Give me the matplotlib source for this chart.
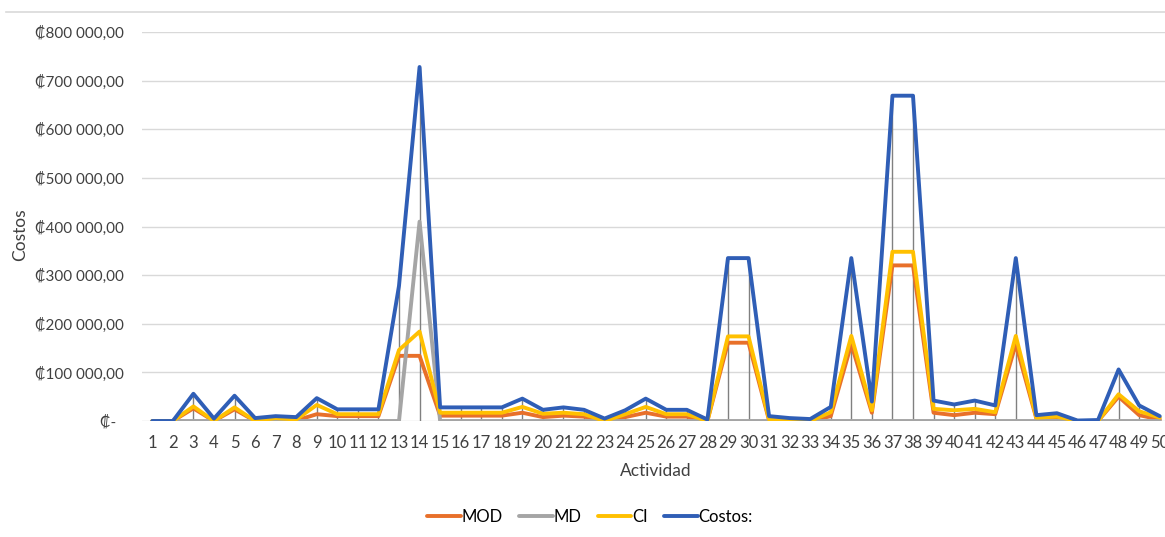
import numpy as np
import matplotlib.pyplot as plt
from matplotlib.lines import Line2D
from matplotlib.ticker import FuncFormatter

plt.rcParams['font.family'] = ['Lato', 'DejaVu Sans']

# Datos
actividad = np.arange(1, 51)
mod = [0, 0, 26000, 0, 24000, 0, 3000, 1000, 14000, 10000,
       10000, 10000, 134000, 134000, 11000, 11000, 11000, 11000, 17000, 8000,
       11000, 9000, 0, 8000, 17000, 9000, 9000, 0, 161000, 161000,
       1000, 0, 0, 10000, 158000, 17000, 320000, 320000, 17000, 12000,
       17000, 14000, 158000, 5000, 7000, 0, 0, 50000, 12000, 3000]
md = [0] * 13 + [410000] + [0] * 36
ci = [0, 0, 30000, 0, 28000, 0, 6000, 3000, 33000, 14000,
      14000, 14000, 146000, 184000, 17000, 17000, 17000, 17000, 29000, 15000,
      17000, 14000, 0, 14000, 29000, 14000, 14000, 0, 174000, 174000,
      3000, 0, 0, 18000, 175000, 22000, 348000, 348000, 25000, 22000,
      25000, 18000, 175000, 7000, 9000, 0, 0, 55000, 20000, 7000]
costos = [0, 0, 56000, 5000, 52000, 6000, 10000, 8000, 47000, 24000,
          24000, 24000, 278000, 728000, 28000, 28000, 28000, 28000, 46000, 23000,
          28000, 23000, 5000, 22000, 46000, 23000, 23000, 3000, 335000, 335000,
          10000, 6000, 4000, 29000, 335000, 40000, 669000, 669000, 42000, 34000,
          42000, 32000, 335000, 12000, 16000, 1000, 2000, 106000, 32000, 10000]

fig = plt.figure(figsize=(11.65, 5.37), dpi=100)
ax = fig.add_axes([142 / 1165, 116 / 537, 1028 / 1165, 389 / 537])

# líneas de proyección
tope = np.max([mod, md, ci, costos], axis=0)
ax.vlines(actividad, 0, tope, color="#808080", lw=1, zorder=2)

estilo = dict(lw=2.8, solid_capstyle="round", solid_joinstyle="round")
ax.plot(actividad, mod, color="#E8702A", label="MOD", zorder=3, **estilo)
ax.plot(actividad, md, color="#A5A5A5", label="MD", zorder=4, **estilo)
ax.plot(actividad, ci, color="#FFC000", label="CI", zorder=5, **estilo)
ax.plot(actividad, costos, color="#2F5EB6", label="Costos:", zorder=6, **estilo)

ax.set_xlim(0.5, 50.5)
ax.set_ylim(0, 800000)
ax.set_xticks(actividad)
ax.set_yticks(np.arange(0, 800001, 100000))


def colones(v, pos):
    if v == 0:
        return "₡-  "
    s = f"{v:,.2f}".replace(",", " ").replace(".", ",")
    return "₡" + s


ax.yaxis.set_major_formatter(FuncFormatter(colones))
ax.tick_params(axis="y", length=0, pad=13, labelsize=11, labelcolor="#404040")
ax.tick_params(axis="x", length=0, pad=10, labelsize=12, labelcolor="#404040")

ax.grid(axis="y", color="#d9d9d9", lw=1)
ax.set_axisbelow(True)
for s in ax.spines.values():
    s.set_visible(False)

ax.set_xlabel("Actividad", fontsize=12.5, color="#404040", labelpad=9)
ax.set_ylabel("Costos", fontsize=12.5, color="#404040")
ax.yaxis.set_label_coords(-114 / 1028, 0.48)

ax.legend(loc="center", bbox_to_anchor=(590 / 1165, 20 / 537),
          bbox_transform=fig.transFigure, ncol=4, frameon=False,
          fontsize=12, handlelength=2.0, handletextpad=0.05, columnspacing=1.0)

# borde superior del área del gráfico
fig.add_artist(Line2D([6 / 1165, 1], [1 - 12 / 537, 1 - 12 / 537],
                      color="#d9d9d9", lw=1.2))

plt.savefig("out.png", dpi=100)
